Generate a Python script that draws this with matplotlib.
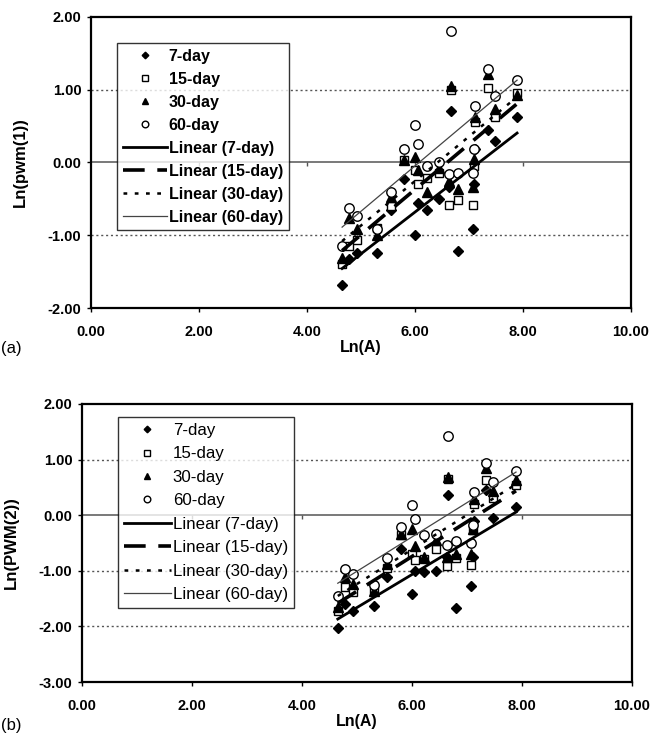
import numpy as np
import matplotlib
matplotlib.use("Agg")
import matplotlib.pyplot as plt
from matplotlib.lines import Line2D

plt.rcParams['font.family'] = ['Liberation Sans', 'DejaVu Sans']

# Ln(A) of the stations
ln_a = [4.65, 4.78, 4.93, 5.30, 5.55, 5.80, 6.00, 6.05, 6.22, 6.44,
        6.63, 6.66, 6.80, 7.07, 7.10, 7.12, 7.35, 7.48, 7.89]

# panel (a): Ln(pwm(1))
a_7 = [-1.68, -1.33, -1.25, -1.24, -0.65, -0.23, -1.00, -0.55, -0.65, -0.50,
       -0.34, 0.71, -1.22, -0.92, -0.30, 0.18, 0.45, 0.30, 0.62]
a_15 = [-1.40, -1.15, -1.06, -0.90, -0.60, 0.03, -0.10, -0.30, -0.21, -0.15,
        -0.58, 1.00, -0.51, -0.58, -0.05, 0.55, 1.03, 0.62, 0.95]
a_30 = [-1.31, -0.76, -0.92, -1.00, -0.48, 0.04, 0.07, -0.10, -0.40, -0.07,
        -0.25, 1.05, -0.37, -0.34, 0.05, 0.63, 1.21, 0.74, 0.93]
a_60 = [-1.15, -0.62, -0.73, -0.92, -0.40, 0.18, 0.51, 0.26, -0.05, 0.01,
        -0.16, 1.81, -0.14, -0.15, 0.18, 0.77, 1.28, 0.92, 1.14]

# panel (b): Ln(PWM(2))
b_7 = [-2.03, -1.60, -1.73, -1.64, -1.12, -0.60, -1.42, -1.00, -1.03, -1.00,
       -0.76, 0.37, -1.66, -1.27, -0.75, -0.10, 0.45, -0.05, 0.14]
b_15 = [-1.73, -1.30, -1.39, -1.37, -0.95, -0.35, -0.70, -0.80, -0.79, -0.60,
        -0.91, 0.66, -0.77, -0.89, -0.27, 0.21, 0.64, 0.31, 0.55]
b_30 = [-1.65, -1.12, -1.23, -1.36, -0.88, -0.34, -0.25, -0.55, -0.75, -0.45,
        -0.75, 0.68, -0.70, -0.70, -0.25, 0.30, 0.85, 0.43, 0.63]
b_60 = [-1.46, -0.96, -1.06, -1.25, -0.77, -0.21, 0.18, -0.07, -0.36, -0.34,
        -0.54, 1.43, -0.46, -0.50, -0.18, 0.41, 0.93, 0.59, 0.79]

durations = ['7-day', '15-day', '30-day', '60-day']
x_ticks = [0, 2, 4, 6, 8, 10]
a_yticks = [-2, -1, 0, 1, 2]
b_yticks = [-3, -2, -1, 0, 1, 2]

markers = [dict(marker='D', ms=4.8, mfc='black', mec='black'),
           dict(marker='s', ms=5.2, mfc='white', mec='black', mew=1.0),
           dict(marker='^', ms=6.5, mfc='black', mec='black'),
           dict(marker='o', ms=6.8, mfc='white', mec='black', mew=1.0)]
trend = [dict(color='black', lw=2.0, ls='-'),
         dict(color='black', lw=2.6, ls=(0, (6, 3.5))),
         dict(color='black', lw=1.8, ls=(0, (1.5, 3))),
         dict(color='#444444', lw=0.9, ls='-')]


def draw(ax, series, yticks, ylabel, bold_legend, legend_box, fs_leg, spacing):
    x = np.array(ln_a)
    for y, mk in zip(series, markers):
        ax.plot(x, y, ls='none', zorder=3, **mk)
    xs = np.array([x.min(), x.max()])
    for y, st in zip(series, trend):
        p = np.polyfit(x, y, 1)
        ax.plot(xs, np.polyval(p, xs), zorder=4, **st)

    ax.set_xlim(0, 10)
    ax.set_ylim(yticks[0], yticks[-1])
    ax.set_xticks(x_ticks)
    ax.set_yticks(yticks)
    ax.set_xticklabels(['%.2f' % v for v in x_ticks], fontweight='bold', fontsize=10.5)
    ax.set_yticklabels(['%.2f' % v for v in yticks], fontweight='bold', fontsize=10.5)
    ax.tick_params(axis='both', length=3, width=1, direction='out', pad=4)
    ax.tick_params(axis='x', pad=9)
    for v in yticks[1:-1]:
        if v == 0:
            ax.axhline(0, color='#555555', lw=1.1, zorder=1)
        else:
            ax.axhline(v, color='#555555', lw=1.0, ls=(0, (1.5, 2)), zorder=1)
    # small ticks where the x axis crosses zero
    ax.plot(x_ticks[1:], np.zeros(len(x_ticks) - 1), ls='none', marker=3,
            ms=3, color='#555555', zorder=1)
    for s in ax.spines.values():
        s.set_linewidth(1.6)
    ax.set_xlabel('Ln(A)', fontweight='bold', fontsize=11.5, labelpad=1)
    ax.set_ylabel(ylabel, fontweight='bold', fontsize=12, labelpad=14)

    handles = []
    for d, mk in zip(durations, markers):
        handles.append(Line2D([], [], ls='none', label=d,
                              **dict(mk, ms=mk['ms'] * 0.7)))
    for d, st in zip(durations, trend):
        handles.append(Line2D([], [], label='Linear (%s)' % d, **st))
    leg = ax.legend(handles=handles, loc='upper left', bbox_to_anchor=legend_box,
                    frameon=True, fancybox=False, edgecolor='black',
                    handlelength=2.8, handletextpad=0.1, labelspacing=spacing,
                    borderpad=0.35, borderaxespad=0,
                    prop=dict(size=fs_leg, weight='bold' if bold_legend else 'normal'))
    leg.get_frame().set_linewidth(1.0)
    leg.set_zorder(5)


fig = plt.figure(figsize=(6.52, 7.44), dpi=100)
ax_a = fig.add_axes([0.1396, 0.586, 0.8282, 0.3912])
ax_b = fig.add_axes([0.1258, 0.0833, 0.8436, 0.3737])

draw(ax_a, [a_7, a_15, a_30, a_60], a_yticks, 'Ln(pwm(1))', True,
     (0.048, 0.91), 11.5, 0.5)
draw(ax_b, [b_7, b_15, b_30, b_60], b_yticks, 'Ln(PWM(2))', False,
     (0.065, 0.953), 12.2, 0.5)

fig.text(0.002, 0.532, '(a)', fontsize=12, va='center')
fig.text(0.002, 0.025, '(b)', fontsize=12, va='center')

fig.savefig('out.png', dpi=100, facecolor='white')
